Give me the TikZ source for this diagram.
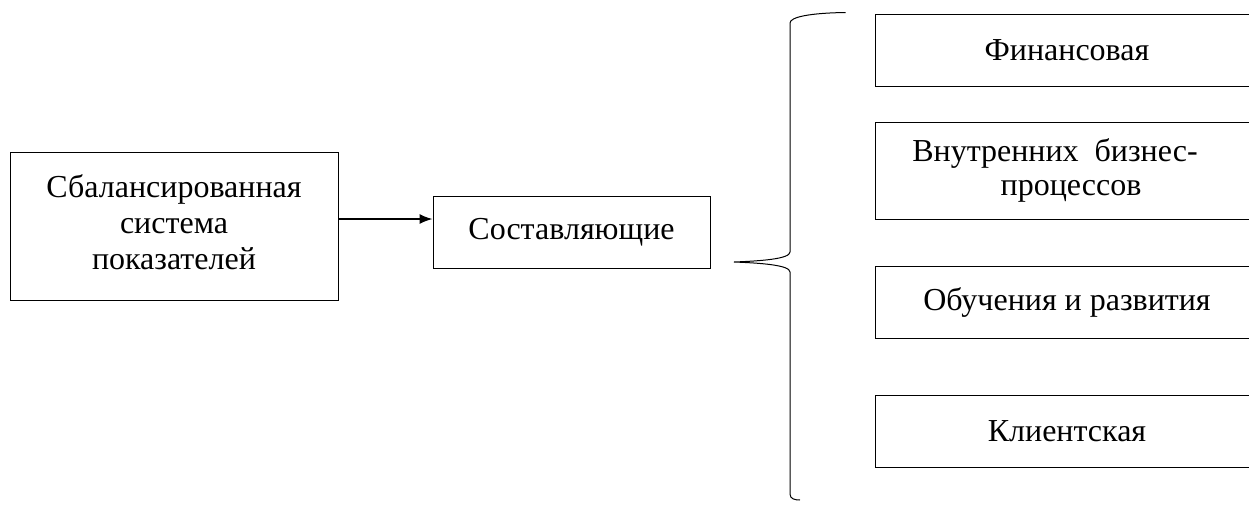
\documentclass[tikz,border=0pt]{standalone}
\usepackage{fontspec}
\setmainfont{Liberation Serif}
\usetikzlibrary{arrows.meta}
\begin{document}
\begin{tikzpicture}[x=1pt,y=-1pt,
  box/.style={draw,line width=1pt,inner sep=0pt,align=center,font=\fontsize{32}{36}\selectfont}]
\useasboundingbox (0,0) rectangle (1249,504);
\clip (0,0) rectangle (1249,504);
% left box
\node[box,minimum width=328pt,minimum height=148pt,text depth=8pt] (bsc) at (174,226) {Сбалансированная\\система\\показателей};
\node[box,minimum width=277pt,minimum height=72pt] (comp) at (571.5,232) {Составляющие};
\draw[line width=1.5pt,-{Latex[length=13pt,width=10pt]}] (bsc.east |- 0,219) -- (comp.west |- 0,219);
% right boxes
\node[box,minimum width=384pt,minimum height=72pt] (fin) at (1067,50) {Финансовая};
\node[box,minimum width=384pt,minimum height=97pt] (int) at (1067,170.5) {Внутренних\ \ бизнес-\hspace*{24pt}\\[-2pt]\hspace*{8pt}процессов};
\node[box,minimum width=384pt,minimum height=72pt] (edu) at (1067,302) {Обучения и развития};
\node[box,minimum width=384pt,minimum height=72pt] (cli) at (1067,431.5) {Клиентская};
% brace
\coordinate (tip) at (734,262);
\draw[line width=1pt] (fin.north west) ++(-29,-1) coordinate (btop)
  .. controls (810,13) and (790,17) .. (790,23) -- (790,252)
  .. controls (790,259) and (760,261) .. (tip)
  .. controls (760,263) and (790,265) .. (790,272) -- (790,494)
  .. controls (790,499) and (795,500) .. (800,500);
\end{tikzpicture}
\end{document}
